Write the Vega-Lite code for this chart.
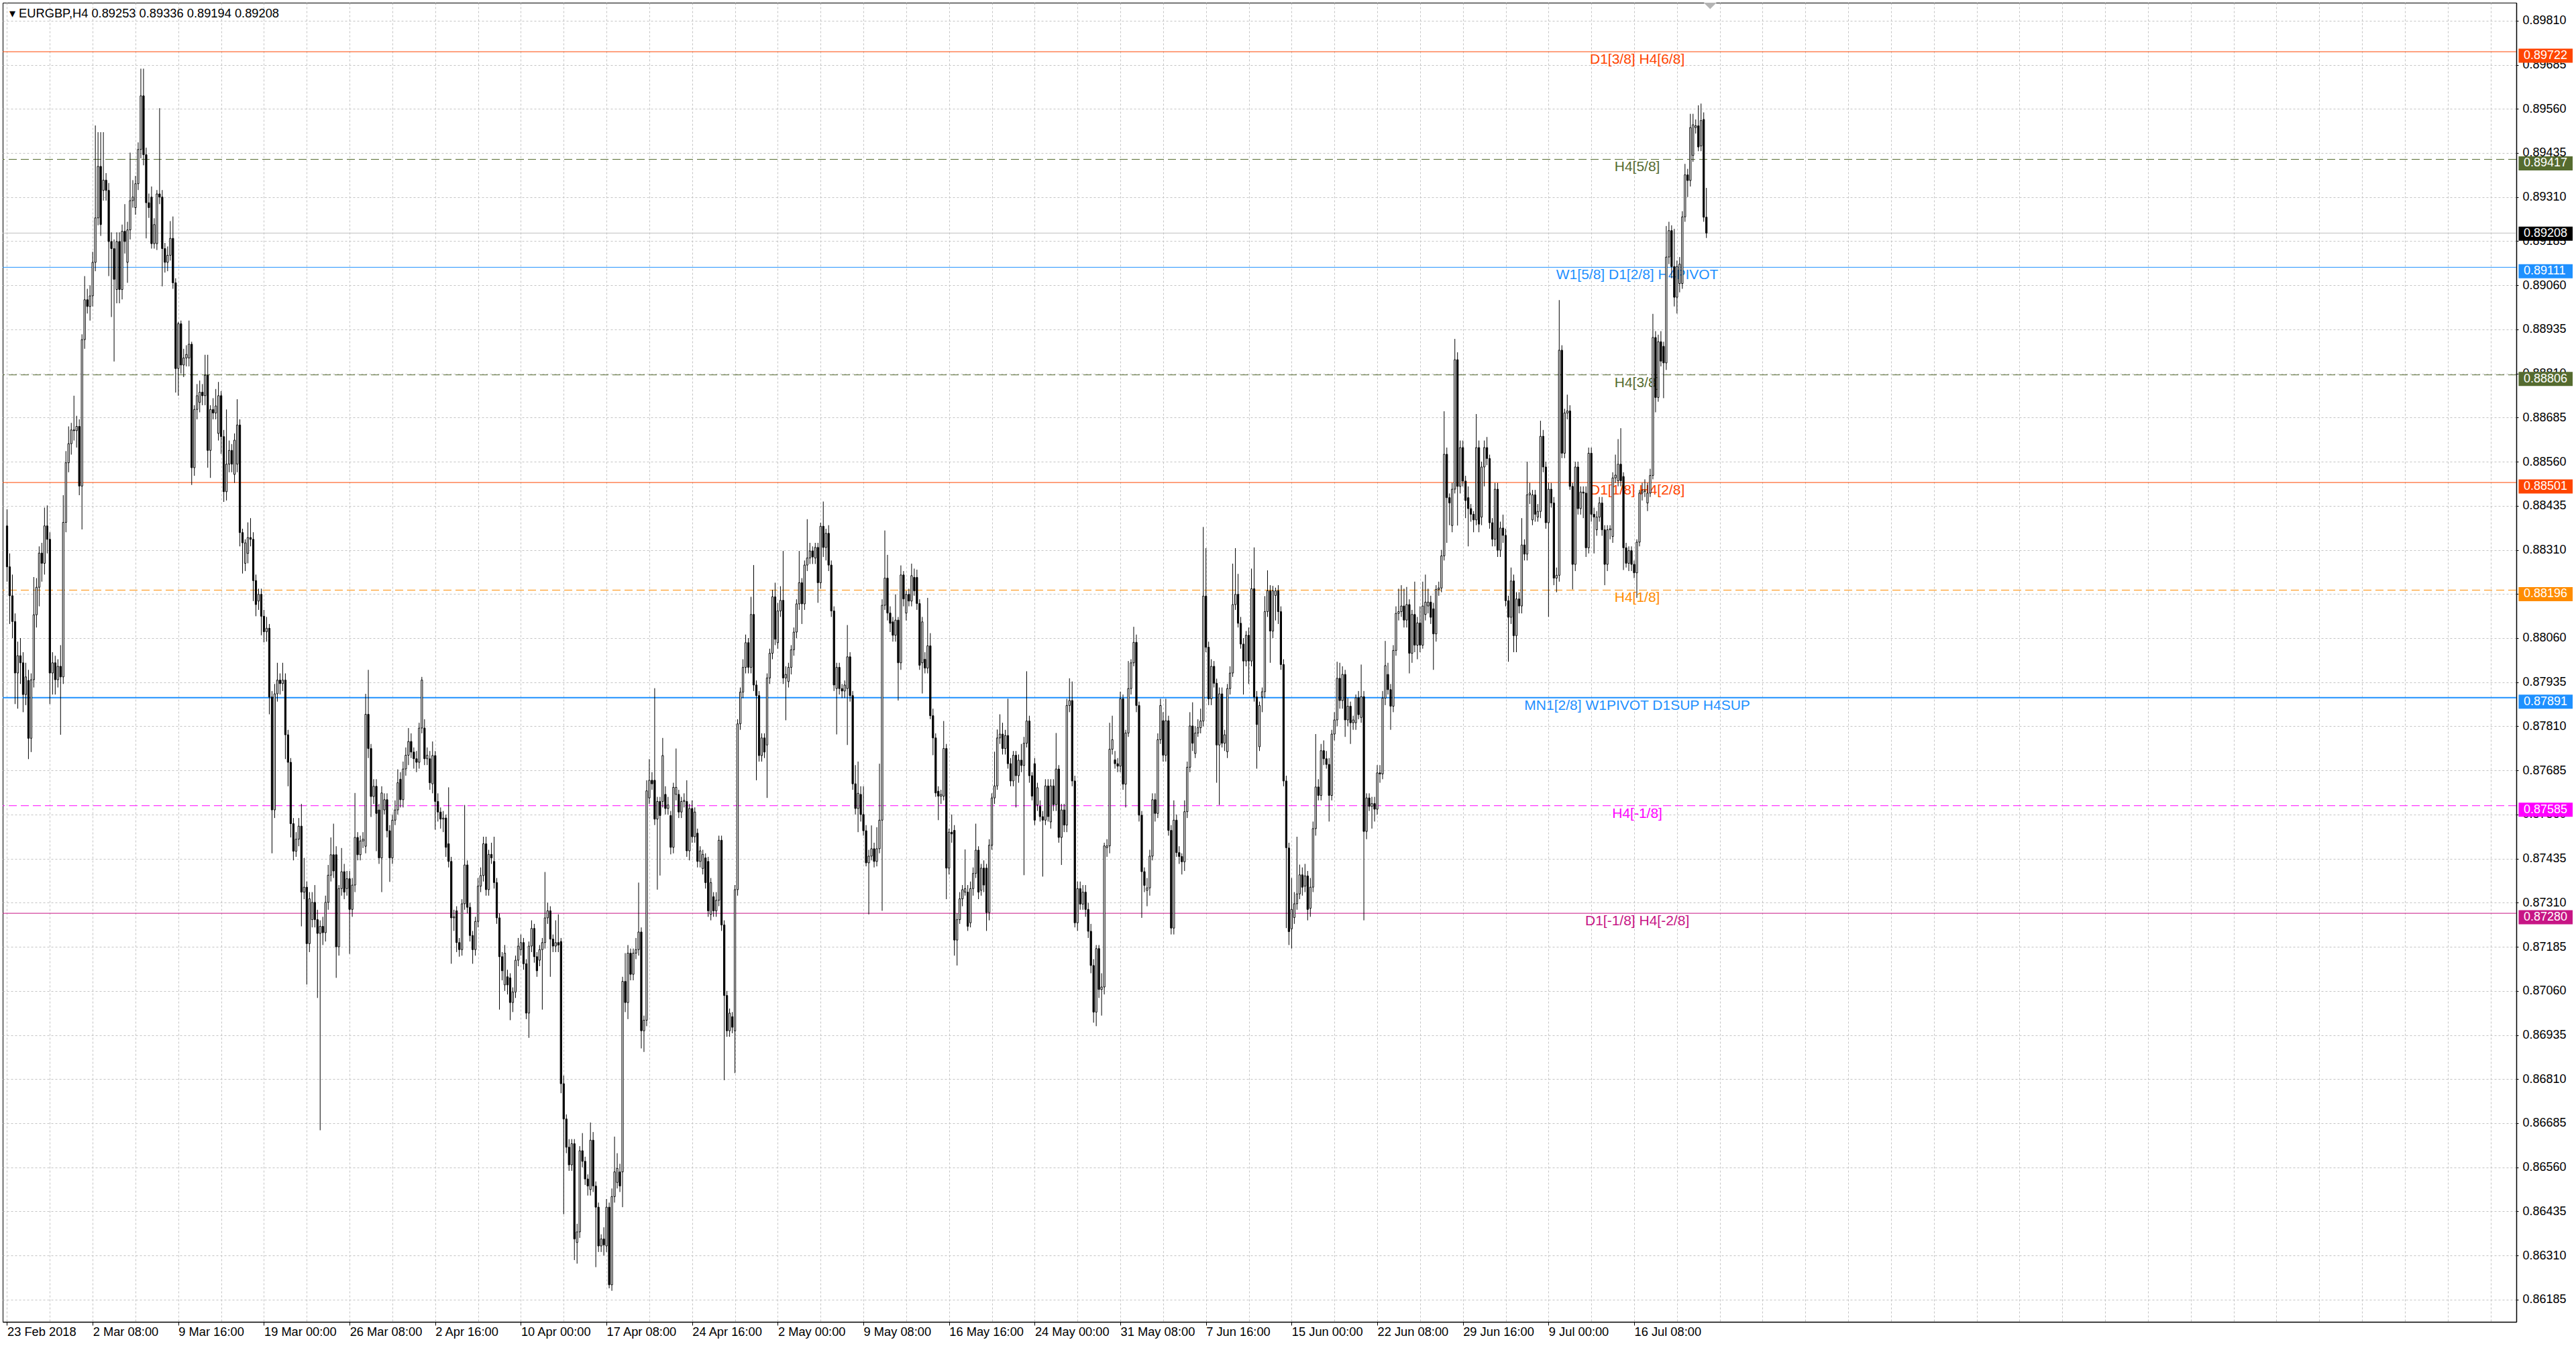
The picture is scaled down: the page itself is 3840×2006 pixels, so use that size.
{
  "$schema": "https://vega.github.io/schema/vega-lite/v6.json",
  "width": 3747,
  "height": 1966,
  "autosize": {"type": "none"},
  "padding": {"left": 4, "top": 4, "right": 89, "bottom": 36},
  "background": "white",
  "config": {
    "view": {"stroke": "#000", "strokeWidth": 1},
    "axis": {"titleFontSize": 1}
  },
  "datasets": {
    "levels": [
      {"p": 0.89722, "lab": "D1[3/8] H4[6/8]"},
      {"p": 0.89417, "lab": "H4[5/8]"},
      {"p": 0.89111, "lab": "W1[5/8] D1[2/8] H4PIVOT"},
      {"p": 0.88806, "lab": "H4[3/8]"},
      {"p": 0.88501, "lab": "D1[1/8] H4[2/8]"},
      {"p": 0.88196, "lab": "H4[1/8]"},
      {"p": 0.87891, "lab": "MN1[2/8] W1PIVOT D1SUP H4SUP"},
      {"p": 0.87585, "lab": "H4[-1/8]"},
      {"p": 0.87280, "lab": "D1[-1/8] H4[-2/8]"}
    ],
    "bars": [
{"i":0,"o":0.88378,"h":0.88425,"l":0.88220,"c":0.88262},
{"i":1,"o":0.88262,"h":0.88300,"l":0.88100,"c":0.88180},
{"i":2,"o":0.88180,"h":0.88240,"l":0.88060,"c":0.88107},
{"i":3,"o":0.88107,"h":0.88130,"l":0.87873,"c":0.87961},
{"i":4,"o":0.87961,"h":0.88050,"l":0.87860,"c":0.88010},
{"i":5,"o":0.88010,"h":0.88060,"l":0.87930,"c":0.87990},
{"i":6,"o":0.87990,"h":0.88020,"l":0.87850,"c":0.87900},
{"i":7,"o":0.87900,"h":0.87990,"l":0.87870,"c":0.87950},
{"i":8,"o":0.87940,"h":0.87970,"l":0.87717,"c":0.87776},
{"i":9,"o":0.87776,"h":0.87960,"l":0.87737,"c":0.87942},
{"i":10,"o":0.87942,"h":0.88233,"l":0.87920,"c":0.88126},
{"i":11,"o":0.88126,"h":0.88230,"l":0.88090,"c":0.88204},
{"i":12,"o":0.88204,"h":0.88320,"l":0.88150,"c":0.88301},
{"i":13,"o":0.88301,"h":0.88330,"l":0.88220,"c":0.88272},
{"i":14,"o":0.88272,"h":0.88430,"l":0.88240,"c":0.88378},
{"i":15,"o":0.88378,"h":0.88436,"l":0.88300,"c":0.88340},
{"i":16,"o":0.88340,"h":0.88360,"l":0.87873,"c":0.87961},
{"i":17,"o":0.87961,"h":0.88020,"l":0.87900,"c":0.87990},
{"i":18,"o":0.87990,"h":0.88010,"l":0.87900,"c":0.87942},
{"i":19,"o":0.87942,"h":0.88000,"l":0.87920,"c":0.87980},
{"i":20,"o":0.87980,"h":0.88040,"l":0.87786,"c":0.87950},
{"i":21,"o":0.87950,"h":0.88465,"l":0.87930,"c":0.88388},
{"i":22,"o":0.88388,"h":0.88590,"l":0.88360,"c":0.88557},
{"i":23,"o":0.88557,"h":0.88660,"l":0.88530,"c":0.88611},
{"i":24,"o":0.88611,"h":0.88670,"l":0.88580,"c":0.88650},
{"i":25,"o":0.88650,"h":0.88747,"l":0.88620,"c":0.88648},
{"i":26,"o":0.88648,"h":0.88690,"l":0.88600,"c":0.88660},
{"i":27,"o":0.88660,"h":0.88680,"l":0.88465,"c":0.88491},
{"i":28,"o":0.88491,"h":0.88921,"l":0.88368,"c":0.88906},
{"i":29,"o":0.88906,"h":0.89086,"l":0.88880,"c":0.89019},
{"i":30,"o":0.89019,"h":0.89050,"l":0.88980,"c":0.89000},
{"i":31,"o":0.89000,"h":0.89060,"l":0.88960,"c":0.89030},
{"i":32,"o":0.89030,"h":0.89155,"l":0.89000,"c":0.89125},
{"i":33,"o":0.89125,"h":0.89513,"l":0.89100,"c":0.89251},
{"i":34,"o":0.89251,"h":0.89494,"l":0.89230,"c":0.89397},
{"i":35,"o":0.89397,"h":0.89494,"l":0.89200,"c":0.89232},
{"i":36,"o":0.89329,"h":0.89494,"l":0.89300,"c":0.89358},
{"i":37,"o":0.89358,"h":0.89378,"l":0.89300,"c":0.89329},
{"i":38,"o":0.89329,"h":0.89350,"l":0.89086,"c":0.89184},
{"i":39,"o":0.89184,"h":0.89210,"l":0.88970,"c":0.89164},
{"i":40,"o":0.89164,"h":0.89190,"l":0.88844,"c":0.89077},
{"i":41,"o":0.89048,"h":0.89210,"l":0.89009,"c":0.89184},
{"i":42,"o":0.89184,"h":0.89210,"l":0.89009,"c":0.89048},
{"i":43,"o":0.89048,"h":0.89232,"l":0.89020,"c":0.89213},
{"i":44,"o":0.89213,"h":0.89290,"l":0.89150,"c":0.89184},
{"i":45,"o":0.89125,"h":0.89240,"l":0.89067,"c":0.89217},
{"i":46,"o":0.89217,"h":0.89436,"l":0.89190,"c":0.89300},
{"i":47,"o":0.89300,"h":0.89358,"l":0.89280,"c":0.89310},
{"i":48,"o":0.89280,"h":0.89370,"l":0.89260,"c":0.89348},
{"i":49,"o":0.89348,"h":0.89465,"l":0.89330,"c":0.89445},
{"i":50,"o":0.89445,"h":0.89674,"l":0.89420,"c":0.89597},
{"i":51,"o":0.89597,"h":0.89674,"l":0.89400,"c":0.89430},
{"i":52,"o":0.89430,"h":0.89450,"l":0.89193,"c":0.89294},
{"i":53,"o":0.89294,"h":0.89320,"l":0.89251,"c":0.89280},
{"i":54,"o":0.89310,"h":0.89340,"l":0.89164,"c":0.89178},
{"i":55,"o":0.89178,"h":0.89250,"l":0.89164,"c":0.89232},
{"i":56,"o":0.89178,"h":0.89330,"l":0.89160,"c":0.89319},
{"i":57,"o":0.89319,"h":0.89562,"l":0.89290,"c":0.89310},
{"i":58,"o":0.89310,"h":0.89330,"l":0.89057,"c":0.89164},
{"i":59,"o":0.89164,"h":0.89180,"l":0.89096,"c":0.89125},
{"i":60,"o":0.89125,"h":0.89170,"l":0.89100,"c":0.89145},
{"i":61,"o":0.89145,"h":0.89242,"l":0.89130,"c":0.89193},
{"i":62,"o":0.89193,"h":0.89255,"l":0.89050,"c":0.89067},
{"i":63,"o":0.89067,"h":0.89080,"l":0.88756,"c":0.88824},
{"i":64,"o":0.88824,"h":0.88956,"l":0.88747,"c":0.88951},
{"i":65,"o":0.88951,"h":0.88960,"l":0.88810,"c":0.88834},
{"i":66,"o":0.88834,"h":0.88880,"l":0.88800,"c":0.88854},
{"i":67,"o":0.88854,"h":0.88890,"l":0.88830,"c":0.88864},
{"i":68,"o":0.88854,"h":0.88960,"l":0.88830,"c":0.88893},
{"i":69,"o":0.88893,"h":0.88900,"l":0.88494,"c":0.88543},
{"i":70,"o":0.88543,"h":0.88720,"l":0.88520,"c":0.88708},
{"i":71,"o":0.88708,"h":0.88780,"l":0.88680,"c":0.88747},
{"i":72,"o":0.88728,"h":0.88790,"l":0.88700,"c":0.88757},
{"i":73,"o":0.88757,"h":0.88780,"l":0.88720,"c":0.88747},
{"i":74,"o":0.88747,"h":0.88863,"l":0.88720,"c":0.88805},
{"i":75,"o":0.88805,"h":0.88863,"l":0.88543,"c":0.88592},
{"i":76,"o":0.88592,"h":0.88720,"l":0.88514,"c":0.88708},
{"i":77,"o":0.88708,"h":0.88740,"l":0.88680,"c":0.88698},
{"i":78,"o":0.88698,"h":0.88766,"l":0.88680,"c":0.88718},
{"i":79,"o":0.88640,"h":0.88786,"l":0.88620,"c":0.88747},
{"i":80,"o":0.88747,"h":0.88760,"l":0.88582,"c":0.88631},
{"i":81,"o":0.88631,"h":0.88650,"l":0.88446,"c":0.88475},
{"i":82,"o":0.88475,"h":0.88708,"l":0.88450,"c":0.88553},
{"i":83,"o":0.88553,"h":0.88620,"l":0.88530,"c":0.88592},
{"i":84,"o":0.88592,"h":0.88610,"l":0.88530,"c":0.88553},
{"i":85,"o":0.88524,"h":0.88640,"l":0.88500,"c":0.88621},
{"i":86,"o":0.88553,"h":0.88737,"l":0.88530,"c":0.88664},
{"i":87,"o":0.88664,"h":0.88680,"l":0.88320,"c":0.88359},
{"i":88,"o":0.88359,"h":0.88370,"l":0.88243,"c":0.88330},
{"i":89,"o":0.88272,"h":0.88340,"l":0.88250,"c":0.88330},
{"i":90,"o":0.88300,"h":0.88388,"l":0.88272,"c":0.88345},
{"i":91,"o":0.88345,"h":0.88400,"l":0.88320,"c":0.88340},
{"i":92,"o":0.88340,"h":0.88360,"l":0.88165,"c":0.88223},
{"i":93,"o":0.88223,"h":0.88240,"l":0.88122,"c":0.88155},
{"i":94,"o":0.88165,"h":0.88200,"l":0.88140,"c":0.88184},
{"i":95,"o":0.88184,"h":0.88200,"l":0.88068,"c":0.88122},
{"i":96,"o":0.88122,"h":0.88140,"l":0.88048,"c":0.88078},
{"i":97,"o":0.88078,"h":0.88120,"l":0.88050,"c":0.88088},
{"i":98,"o":0.88088,"h":0.88100,"l":0.87844,"c":0.87893},
{"i":99,"o":0.87893,"h":0.87910,"l":0.87450,"c":0.87573},
{"i":100,"o":0.87573,"h":0.87930,"l":0.87550,"c":0.87902},
{"i":101,"o":0.87902,"h":0.87990,"l":0.87880,"c":0.87941},
{"i":102,"o":0.87941,"h":0.87960,"l":0.87900,"c":0.87931},
{"i":103,"o":0.87931,"h":0.87990,"l":0.87910,"c":0.87941},
{"i":104,"o":0.87941,"h":0.87960,"l":0.87717,"c":0.87786},
{"i":105,"o":0.87786,"h":0.87800,"l":0.87640,"c":0.87708},
{"i":106,"o":0.87708,"h":0.87720,"l":0.87495,"c":0.87534},
{"i":107,"o":0.87534,"h":0.87550,"l":0.87430,"c":0.87456},
{"i":108,"o":0.87456,"h":0.87510,"l":0.87440,"c":0.87490},
{"i":109,"o":0.87490,"h":0.87550,"l":0.87470,"c":0.87527},
{"i":110,"o":0.87527,"h":0.87590,"l":0.87243,"c":0.87340},
{"i":111,"o":0.87340,"h":0.87437,"l":0.87320,"c":0.87354},
{"i":112,"o":0.87354,"h":0.87370,"l":0.87078,"c":0.87194},
{"i":113,"o":0.87194,"h":0.87340,"l":0.87170,"c":0.87321},
{"i":114,"o":0.87262,"h":0.87340,"l":0.87240,"c":0.87311},
{"i":115,"o":0.87311,"h":0.87360,"l":0.87240,"c":0.87262},
{"i":116,"o":0.87262,"h":0.87290,"l":0.87040,"c":0.87223},
{"i":117,"o":0.87223,"h":0.87260,"l":0.86665,"c":0.87243},
{"i":118,"o":0.87243,"h":0.87270,"l":0.87190,"c":0.87225},
{"i":119,"o":0.87225,"h":0.87330,"l":0.87200,"c":0.87311},
{"i":120,"o":0.87311,"h":0.87417,"l":0.87290,"c":0.87388},
{"i":121,"o":0.87388,"h":0.87495,"l":0.87370,"c":0.87446},
{"i":122,"o":0.87446,"h":0.87534,"l":0.87380,"c":0.87400},
{"i":123,"o":0.87446,"h":0.87470,"l":0.87097,"c":0.87185},
{"i":124,"o":0.87185,"h":0.87360,"l":0.87160,"c":0.87350},
{"i":125,"o":0.87350,"h":0.87465,"l":0.87330,"c":0.87398},
{"i":126,"o":0.87398,"h":0.87420,"l":0.87320,"c":0.87340},
{"i":127,"o":0.87350,"h":0.87400,"l":0.87330,"c":0.87378},
{"i":128,"o":0.87378,"h":0.87400,"l":0.87165,"c":0.87291},
{"i":129,"o":0.87291,"h":0.87380,"l":0.87270,"c":0.87360},
{"i":130,"o":0.87360,"h":0.87621,"l":0.87340,"c":0.87495},
{"i":131,"o":0.87495,"h":0.87510,"l":0.87430,"c":0.87446},
{"i":132,"o":0.87446,"h":0.87500,"l":0.87430,"c":0.87485},
{"i":133,"o":0.87485,"h":0.87510,"l":0.87465,"c":0.87490},
{"i":134,"o":0.87470,"h":0.87902,"l":0.87450,"c":0.87844},
{"i":135,"o":0.87844,"h":0.87970,"l":0.87720,"c":0.87747},
{"i":136,"o":0.87747,"h":0.87760,"l":0.87553,"c":0.87611},
{"i":137,"o":0.87611,"h":0.87660,"l":0.87590,"c":0.87640},
{"i":138,"o":0.87640,"h":0.87660,"l":0.87456,"c":0.87563},
{"i":139,"o":0.87573,"h":0.87590,"l":0.87420,"c":0.87437},
{"i":140,"o":0.87437,"h":0.87640,"l":0.87340,"c":0.87621},
{"i":141,"o":0.87573,"h":0.87620,"l":0.87560,"c":0.87602},
{"i":142,"o":0.87602,"h":0.87620,"l":0.87495,"c":0.87514},
{"i":143,"o":0.87514,"h":0.87530,"l":0.87369,"c":0.87437},
{"i":144,"o":0.87437,"h":0.87560,"l":0.87420,"c":0.87544},
{"i":145,"o":0.87544,"h":0.87600,"l":0.87530,"c":0.87573},
{"i":146,"o":0.87573,"h":0.87688,"l":0.87560,"c":0.87650},
{"i":147,"o":0.87660,"h":0.87680,"l":0.87580,"c":0.87602},
{"i":148,"o":0.87602,"h":0.87710,"l":0.87580,"c":0.87689},
{"i":149,"o":0.87689,"h":0.87750,"l":0.87670,"c":0.87728},
{"i":150,"o":0.87728,"h":0.87805,"l":0.87700,"c":0.87767},
{"i":151,"o":0.87767,"h":0.87790,"l":0.87720,"c":0.87737},
{"i":152,"o":0.87737,"h":0.87750,"l":0.87690,"c":0.87718},
{"i":153,"o":0.87718,"h":0.87740,"l":0.87680,"c":0.87708},
{"i":154,"o":0.87708,"h":0.87820,"l":0.87690,"c":0.87805},
{"i":155,"o":0.87805,"h":0.87950,"l":0.87790,"c":0.87941},
{"i":156,"o":0.87805,"h":0.87830,"l":0.87700,"c":0.87718},
{"i":157,"o":0.87718,"h":0.87750,"l":0.87700,"c":0.87728},
{"i":158,"o":0.87718,"h":0.87740,"l":0.87630,"c":0.87650},
{"i":159,"o":0.87647,"h":0.87767,"l":0.87620,"c":0.87727},
{"i":160,"o":0.87727,"h":0.87740,"l":0.87517,"c":0.87597},
{"i":161,"o":0.87597,"h":0.87620,"l":0.87540,"c":0.87567},
{"i":162,"o":0.87567,"h":0.87580,"l":0.87520,"c":0.87547},
{"i":163,"o":0.87547,"h":0.87570,"l":0.87510,"c":0.87550},
{"i":164,"o":0.87550,"h":0.87560,"l":0.87440,"c":0.87467},
{"i":165,"o":0.87477,"h":0.87637,"l":0.87410,"c":0.87427},
{"i":166,"o":0.87427,"h":0.87440,"l":0.87137,"c":0.87267},
{"i":167,"o":0.87267,"h":0.87290,"l":0.87230,"c":0.87270},
{"i":168,"o":0.87287,"h":0.87300,"l":0.87170,"c":0.87197},
{"i":169,"o":0.87197,"h":0.87210,"l":0.87157,"c":0.87177},
{"i":170,"o":0.87177,"h":0.87320,"l":0.87160,"c":0.87307},
{"i":171,"o":0.87307,"h":0.87587,"l":0.87290,"c":0.87417},
{"i":172,"o":0.87417,"h":0.87430,"l":0.87280,"c":0.87297},
{"i":173,"o":0.87297,"h":0.87310,"l":0.87200,"c":0.87217},
{"i":174,"o":0.87217,"h":0.87230,"l":0.87137,"c":0.87177},
{"i":175,"o":0.87177,"h":0.87270,"l":0.87160,"c":0.87257},
{"i":176,"o":0.87257,"h":0.87380,"l":0.87240,"c":0.87357},
{"i":177,"o":0.87357,"h":0.87410,"l":0.87340,"c":0.87387},
{"i":178,"o":0.87387,"h":0.87497,"l":0.87370,"c":0.87477},
{"i":179,"o":0.87477,"h":0.87497,"l":0.87330,"c":0.87347},
{"i":180,"o":0.87347,"h":0.87460,"l":0.87330,"c":0.87447},
{"i":181,"o":0.87447,"h":0.87480,"l":0.87420,"c":0.87437},
{"i":182,"o":0.87427,"h":0.87497,"l":0.87350,"c":0.87367},
{"i":183,"o":0.87367,"h":0.87380,"l":0.87250,"c":0.87267},
{"i":184,"o":0.87267,"h":0.87280,"l":0.87007,"c":0.87157},
{"i":185,"o":0.87157,"h":0.87170,"l":0.87090,"c":0.87117},
{"i":186,"o":0.87077,"h":0.87190,"l":0.87060,"c":0.87167},
{"i":187,"o":0.87100,"h":0.87120,"l":0.87050,"c":0.87077},
{"i":188,"o":0.87097,"h":0.87110,"l":0.86977,"c":0.87027},
{"i":189,"o":0.87027,"h":0.87070,"l":0.87000,"c":0.87057},
{"i":190,"o":0.87057,"h":0.87160,"l":0.87040,"c":0.87147},
{"i":191,"o":0.87147,"h":0.87210,"l":0.87130,"c":0.87187},
{"i":192,"o":0.87177,"h":0.87220,"l":0.87160,"c":0.87197},
{"i":193,"o":0.87197,"h":0.87210,"l":0.87120,"c":0.87137},
{"i":194,"o":0.87137,"h":0.87150,"l":0.86980,"c":0.86997},
{"i":195,"o":0.86997,"h":0.87200,"l":0.86927,"c":0.87187},
{"i":196,"o":0.87187,"h":0.87260,"l":0.87170,"c":0.87237},
{"i":197,"o":0.87237,"h":0.87250,"l":0.87140,"c":0.87157},
{"i":198,"o":0.87157,"h":0.87170,"l":0.87100,"c":0.87117},
{"i":199,"o":0.87147,"h":0.87190,"l":0.87130,"c":0.87177},
{"i":200,"o":0.87177,"h":0.87210,"l":0.87007,"c":0.87197},
{"i":201,"o":0.87197,"h":0.87397,"l":0.87180,"c":0.87267},
{"i":202,"o":0.87267,"h":0.87310,"l":0.87250,"c":0.87287},
{"i":203,"o":0.87287,"h":0.87300,"l":0.87100,"c":0.87207},
{"i":204,"o":0.87207,"h":0.87220,"l":0.87170,"c":0.87187},
{"i":205,"o":0.87187,"h":0.87260,"l":0.87170,"c":0.87197},
{"i":206,"o":0.87197,"h":0.87277,"l":0.87170,"c":0.87190},
{"i":207,"o":0.87200,"h":0.87210,"l":0.86770,"c":0.86797},
{"i":208,"o":0.86797,"h":0.86820,"l":0.86427,"c":0.86697},
{"i":209,"o":0.86697,"h":0.86710,"l":0.86600,"c":0.86617},
{"i":210,"o":0.86617,"h":0.86640,"l":0.86550,"c":0.86567},
{"i":211,"o":0.86567,"h":0.86640,"l":0.86550,"c":0.86627},
{"i":212,"o":0.86627,"h":0.86640,"l":0.86297,"c":0.86357},
{"i":213,"o":0.86347,"h":0.86400,"l":0.86287,"c":0.86377},
{"i":214,"o":0.86377,"h":0.86620,"l":0.86360,"c":0.86607},
{"i":215,"o":0.86607,"h":0.86657,"l":0.86560,"c":0.86577},
{"i":216,"o":0.86577,"h":0.86590,"l":0.86510,"c":0.86527},
{"i":217,"o":0.86527,"h":0.86540,"l":0.86480,"c":0.86507},
{"i":218,"o":0.86497,"h":0.86687,"l":0.86480,"c":0.86637},
{"i":219,"o":0.86637,"h":0.86660,"l":0.86490,"c":0.86507},
{"i":220,"o":0.86507,"h":0.86520,"l":0.86277,"c":0.86447},
{"i":221,"o":0.86447,"h":0.86460,"l":0.86320,"c":0.86337},
{"i":222,"o":0.86337,"h":0.86370,"l":0.86320,"c":0.86357},
{"i":223,"o":0.86357,"h":0.86390,"l":0.86310,"c":0.86340},
{"i":224,"o":0.86337,"h":0.86470,"l":0.86320,"c":0.86447},
{"i":225,"o":0.86447,"h":0.86460,"l":0.86217,"c":0.86227},
{"i":226,"o":0.86227,"h":0.86500,"l":0.86210,"c":0.86477},
{"i":227,"o":0.86477,"h":0.86647,"l":0.86460,"c":0.86547},
{"i":228,"o":0.86517,"h":0.86600,"l":0.86500,"c":0.86557},
{"i":229,"o":0.86547,"h":0.86570,"l":0.86490,"c":0.86507},
{"i":230,"o":0.86547,"h":0.87100,"l":0.86447,"c":0.87087},
{"i":231,"o":0.87087,"h":0.87167,"l":0.87000,"c":0.87027},
{"i":232,"o":0.87027,"h":0.87190,"l":0.86980,"c":0.87167},
{"i":233,"o":0.87167,"h":0.87180,"l":0.87090,"c":0.87107},
{"i":234,"o":0.87107,"h":0.87180,"l":0.87090,"c":0.87167},
{"i":235,"o":0.87167,"h":0.87210,"l":0.87150,"c":0.87177},
{"i":236,"o":0.87177,"h":0.87367,"l":0.87160,"c":0.87227},
{"i":237,"o":0.87227,"h":0.87240,"l":0.86897,"c":0.86947},
{"i":238,"o":0.86947,"h":0.86990,"l":0.86887,"c":0.86977},
{"i":239,"o":0.86977,"h":0.87657,"l":0.86960,"c":0.87627},
{"i":240,"o":0.87607,"h":0.87717,"l":0.87590,"c":0.87657},
{"i":241,"o":0.87657,"h":0.87680,"l":0.87630,"c":0.87647},
{"i":242,"o":0.87657,"h":0.87918,"l":0.87530,"c":0.87547},
{"i":243,"o":0.87547,"h":0.87610,"l":0.87347,"c":0.87597},
{"i":244,"o":0.87597,"h":0.87610,"l":0.87387,"c":0.87557},
{"i":245,"o":0.87597,"h":0.87777,"l":0.87580,"c":0.87727},
{"i":246,"o":0.87617,"h":0.87640,"l":0.87560,"c":0.87577},
{"i":247,"o":0.87577,"h":0.87610,"l":0.87560,"c":0.87587},
{"i":248,"o":0.87557,"h":0.87570,"l":0.87447,"c":0.87467},
{"i":249,"o":0.87467,"h":0.87650,"l":0.87450,"c":0.87637},
{"i":250,"o":0.87617,"h":0.87747,"l":0.87600,"c":0.87637},
{"i":251,"o":0.87617,"h":0.87630,"l":0.87550,"c":0.87567},
{"i":252,"o":0.87567,"h":0.87610,"l":0.87550,"c":0.87597},
{"i":253,"o":0.87597,"h":0.87620,"l":0.87580,"c":0.87600},
{"i":254,"o":0.87597,"h":0.87657,"l":0.87440,"c":0.87457},
{"i":255,"o":0.87457,"h":0.87590,"l":0.87430,"c":0.87577},
{"i":256,"o":0.87577,"h":0.87600,"l":0.87480,"c":0.87497},
{"i":257,"o":0.87497,"h":0.87580,"l":0.87480,"c":0.87567},
{"i":258,"o":0.87507,"h":0.87520,"l":0.87410,"c":0.87427},
{"i":259,"o":0.87427,"h":0.87470,"l":0.87410,"c":0.87457},
{"i":260,"o":0.87407,"h":0.87460,"l":0.87390,"c":0.87447},
{"i":261,"o":0.87437,"h":0.87450,"l":0.87350,"c":0.87367},
{"i":262,"o":0.87427,"h":0.87440,"l":0.87270,"c":0.87287},
{"i":263,"o":0.87277,"h":0.87380,"l":0.87260,"c":0.87367},
{"i":264,"o":0.87327,"h":0.87340,"l":0.87270,"c":0.87287},
{"i":265,"o":0.87287,"h":0.87340,"l":0.87270,"c":0.87317},
{"i":266,"o":0.87317,"h":0.87500,"l":0.87300,"c":0.87487},
{"i":267,"o":0.87487,"h":0.87500,"l":0.87230,"c":0.87247},
{"i":268,"o":0.87247,"h":0.87260,"l":0.86807,"c":0.87047},
{"i":269,"o":0.87047,"h":0.87060,"l":0.86930,"c":0.86947},
{"i":270,"o":0.86947,"h":0.87010,"l":0.86930,"c":0.86997},
{"i":271,"o":0.86987,"h":0.87000,"l":0.86940,"c":0.86957},
{"i":272,"o":0.86947,"h":0.87360,"l":0.86827,"c":0.87347},
{"i":273,"o":0.87347,"h":0.87830,"l":0.87330,"c":0.87817},
{"i":274,"o":0.87817,"h":0.87920,"l":0.87800,"c":0.87907},
{"i":275,"o":0.87907,"h":0.88000,"l":0.87890,"c":0.87977},
{"i":276,"o":0.87977,"h":0.88070,"l":0.87960,"c":0.88047},
{"i":277,"o":0.88047,"h":0.88060,"l":0.87960,"c":0.87977},
{"i":278,"o":0.87977,"h":0.88177,"l":0.87960,"c":0.88127},
{"i":279,"o":0.88127,"h":0.88267,"l":0.87910,"c":0.87927},
{"i":280,"o":0.87927,"h":0.87940,"l":0.87657,"c":0.87897},
{"i":281,"o":0.87897,"h":0.87910,"l":0.87710,"c":0.87727},
{"i":282,"o":0.87727,"h":0.87790,"l":0.87710,"c":0.87777},
{"i":283,"o":0.87777,"h":0.87790,"l":0.87720,"c":0.87737},
{"i":284,"o":0.87757,"h":0.87960,"l":0.87607,"c":0.87947},
{"i":285,"o":0.87947,"h":0.88030,"l":0.87930,"c":0.88017},
{"i":286,"o":0.88017,"h":0.88197,"l":0.88000,"c":0.88177},
{"i":287,"o":0.88177,"h":0.88217,"l":0.88040,"c":0.88057},
{"i":288,"o":0.88047,"h":0.88160,"l":0.88030,"c":0.88137},
{"i":289,"o":0.88137,"h":0.88207,"l":0.88120,"c":0.88167},
{"i":290,"o":0.88167,"h":0.88307,"l":0.87930,"c":0.87947},
{"i":291,"o":0.87947,"h":0.87980,"l":0.87827,"c":0.87957},
{"i":292,"o":0.87937,"h":0.87990,"l":0.87920,"c":0.87977},
{"i":293,"o":0.87977,"h":0.88040,"l":0.87957,"c":0.88027},
{"i":294,"o":0.88027,"h":0.88090,"l":0.88010,"c":0.88077},
{"i":295,"o":0.88077,"h":0.88170,"l":0.88060,"c":0.88157},
{"i":296,"o":0.88157,"h":0.88307,"l":0.88140,"c":0.88217},
{"i":297,"o":0.88217,"h":0.88230,"l":0.88100,"c":0.88157},
{"i":298,"o":0.88157,"h":0.88280,"l":0.88140,"c":0.88267},
{"i":299,"o":0.88267,"h":0.88397,"l":0.88250,"c":0.88287},
{"i":300,"o":0.88287,"h":0.88330,"l":0.88270,"c":0.88307},
{"i":301,"o":0.88307,"h":0.88320,"l":0.88270,"c":0.88290},
{"i":302,"o":0.88287,"h":0.88330,"l":0.88270,"c":0.88317},
{"i":303,"o":0.88317,"h":0.88330,"l":0.88160,"c":0.88217},
{"i":304,"o":0.88217,"h":0.88387,"l":0.88200,"c":0.88377},
{"i":305,"o":0.88377,"h":0.88447,"l":0.88290,"c":0.88317},
{"i":306,"o":0.88317,"h":0.88370,"l":0.88280,"c":0.88357},
{"i":307,"o":0.88357,"h":0.88380,"l":0.88250,"c":0.88267},
{"i":308,"o":0.88267,"h":0.88280,"l":0.88120,"c":0.88137},
{"i":309,"o":0.88137,"h":0.88150,"l":0.87910,"c":0.87927},
{"i":310,"o":0.87917,"h":0.87990,"l":0.87787,"c":0.87977},
{"i":311,"o":0.87977,"h":0.87990,"l":0.87900,"c":0.87917},
{"i":312,"o":0.87917,"h":0.87930,"l":0.87890,"c":0.87910},
{"i":313,"o":0.87910,"h":0.87940,"l":0.87890,"c":0.87927},
{"i":314,"o":0.87917,"h":0.88097,"l":0.87757,"c":0.88007},
{"i":315,"o":0.88007,"h":0.88020,"l":0.87880,"c":0.87897},
{"i":316,"o":0.87897,"h":0.87910,"l":0.87630,"c":0.87647},
{"i":317,"o":0.87647,"h":0.87700,"l":0.87560,"c":0.87577},
{"i":318,"o":0.87577,"h":0.87710,"l":0.87510,"c":0.87620},
{"i":319,"o":0.87617,"h":0.87640,"l":0.87540,"c":0.87560},
{"i":320,"o":0.87560,"h":0.87640,"l":0.87500,"c":0.87514},
{"i":321,"o":0.87514,"h":0.87530,"l":0.87413,"c":0.87423},
{"i":322,"o":0.87423,"h":0.87460,"l":0.87277,"c":0.87442},
{"i":323,"o":0.87442,"h":0.87529,"l":0.87430,"c":0.87463},
{"i":324,"o":0.87463,"h":0.87480,"l":0.87410,"c":0.87427},
{"i":325,"o":0.87427,"h":0.87524,"l":0.87413,"c":0.87463},
{"i":326,"o":0.87463,"h":0.87704,"l":0.87450,"c":0.87544},
{"i":327,"o":0.87544,"h":0.88170,"l":0.87287,"c":0.88153},
{"i":328,"o":0.88153,"h":0.88365,"l":0.88140,"c":0.88230},
{"i":329,"o":0.88230,"h":0.88296,"l":0.88110,"c":0.88131},
{"i":330,"o":0.88131,"h":0.88150,"l":0.88077,"c":0.88102},
{"i":331,"o":0.88106,"h":0.88120,"l":0.88050,"c":0.88068},
{"i":332,"o":0.88068,"h":0.88184,"l":0.88050,"c":0.88111},
{"i":333,"o":0.88111,"h":0.88120,"l":0.87883,"c":0.87990},
{"i":334,"o":0.87990,"h":0.88266,"l":0.87970,"c":0.88239},
{"i":335,"o":0.88239,"h":0.88250,"l":0.88150,"c":0.88171},
{"i":336,"o":0.88131,"h":0.88194,"l":0.88110,"c":0.88184},
{"i":337,"o":0.88184,"h":0.88200,"l":0.88150,"c":0.88165},
{"i":338,"o":0.88165,"h":0.88271,"l":0.88150,"c":0.88237},
{"i":339,"o":0.88232,"h":0.88257,"l":0.88180,"c":0.88194},
{"i":340,"o":0.88232,"h":0.88254,"l":0.88140,"c":0.88158},
{"i":341,"o":0.88158,"h":0.88170,"l":0.87970,"c":0.87983},
{"i":342,"o":0.87990,"h":0.88120,"l":0.87903,"c":0.88106},
{"i":343,"o":0.88000,"h":0.88020,"l":0.87960,"c":0.87975},
{"i":344,"o":0.87975,"h":0.88174,"l":0.87960,"c":0.88038},
{"i":345,"o":0.88038,"h":0.88074,"l":0.87830,"c":0.87840},
{"i":346,"o":0.87840,"h":0.87860,"l":0.87728,"c":0.87777},
{"i":347,"o":0.87777,"h":0.87790,"l":0.87610,"c":0.87621},
{"i":348,"o":0.87626,"h":0.87640,"l":0.87544,"c":0.87612},
{"i":349,"o":0.87612,"h":0.87630,"l":0.87590,"c":0.87617},
{"i":350,"o":0.87612,"h":0.87825,"l":0.87600,"c":0.87747},
{"i":351,"o":0.87747,"h":0.87760,"l":0.87320,"c":0.87408},
{"i":352,"o":0.87408,"h":0.87520,"l":0.87390,"c":0.87510},
{"i":353,"o":0.87510,"h":0.87560,"l":0.87480,"c":0.87505},
{"i":354,"o":0.87515,"h":0.87530,"l":0.87160,"c":0.87204},
{"i":355,"o":0.87204,"h":0.87280,"l":0.87132,"c":0.87262},
{"i":356,"o":0.87262,"h":0.87340,"l":0.87250,"c":0.87321},
{"i":357,"o":0.87321,"h":0.87360,"l":0.87300,"c":0.87347},
{"i":358,"o":0.87340,"h":0.87461,"l":0.87330,"c":0.87350},
{"i":359,"o":0.87340,"h":0.87360,"l":0.87230,"c":0.87243},
{"i":360,"o":0.87253,"h":0.87370,"l":0.87240,"c":0.87350},
{"i":361,"o":0.87350,"h":0.87410,"l":0.87330,"c":0.87393},
{"i":362,"o":0.87393,"h":0.87534,"l":0.87380,"c":0.87459},
{"i":363,"o":0.87459,"h":0.87470,"l":0.87320,"c":0.87340},
{"i":364,"o":0.87345,"h":0.87420,"l":0.87330,"c":0.87408},
{"i":365,"o":0.87408,"h":0.87430,"l":0.87340,"c":0.87360},
{"i":366,"o":0.87408,"h":0.87420,"l":0.87230,"c":0.87282},
{"i":367,"o":0.87282,"h":0.87490,"l":0.87260,"c":0.87473},
{"i":368,"o":0.87473,"h":0.87620,"l":0.87460,"c":0.87607},
{"i":369,"o":0.87607,"h":0.87738,"l":0.87590,"c":0.87641},
{"i":370,"o":0.87641,"h":0.87801,"l":0.87630,"c":0.87777},
{"i":371,"o":0.87777,"h":0.87844,"l":0.87760,"c":0.87788},
{"i":372,"o":0.87788,"h":0.87820,"l":0.87730,"c":0.87747},
{"i":373,"o":0.87747,"h":0.87800,"l":0.87730,"c":0.87784},
{"i":374,"o":0.87784,"h":0.87888,"l":0.87690,"c":0.87704},
{"i":375,"o":0.87704,"h":0.87720,"l":0.87640,"c":0.87655},
{"i":376,"o":0.87655,"h":0.87740,"l":0.87640,"c":0.87728},
{"i":377,"o":0.87728,"h":0.87740,"l":0.87580,"c":0.87670},
{"i":378,"o":0.87670,"h":0.87730,"l":0.87650,"c":0.87714},
{"i":379,"o":0.87714,"h":0.87760,"l":0.87680,"c":0.87699},
{"i":380,"o":0.87699,"h":0.87780,"l":0.87388,"c":0.87762},
{"i":381,"o":0.87762,"h":0.87966,"l":0.87750,"c":0.87825},
{"i":382,"o":0.87825,"h":0.87840,"l":0.87650,"c":0.87670},
{"i":383,"o":0.87670,"h":0.87680,"l":0.87600,"c":0.87612},
{"i":384,"o":0.87704,"h":0.87720,"l":0.87530,"c":0.87544},
{"i":385,"o":0.87587,"h":0.87650,"l":0.87570,"c":0.87636},
{"i":386,"o":0.87583,"h":0.87600,"l":0.87540,"c":0.87554},
{"i":387,"o":0.87554,"h":0.87570,"l":0.87384,"c":0.87544},
{"i":388,"o":0.87544,"h":0.87660,"l":0.87530,"c":0.87641},
{"i":389,"o":0.87641,"h":0.87660,"l":0.87540,"c":0.87554},
{"i":390,"o":0.87539,"h":0.87660,"l":0.87520,"c":0.87641},
{"i":391,"o":0.87641,"h":0.87660,"l":0.87570,"c":0.87588},
{"i":392,"o":0.87588,"h":0.87791,"l":0.87570,"c":0.87689},
{"i":393,"o":0.87689,"h":0.87700,"l":0.87480,"c":0.87495},
{"i":394,"o":0.87495,"h":0.87590,"l":0.87417,"c":0.87573},
{"i":395,"o":0.87573,"h":0.87590,"l":0.87510,"c":0.87530},
{"i":396,"o":0.87530,"h":0.87888,"l":0.87510,"c":0.87869},
{"i":397,"o":0.87869,"h":0.87946,"l":0.87850,"c":0.87883},
{"i":398,"o":0.87883,"h":0.87937,"l":0.87640,"c":0.87655},
{"i":399,"o":0.87655,"h":0.87670,"l":0.87240,"c":0.87253},
{"i":400,"o":0.87253,"h":0.87370,"l":0.87230,"c":0.87350},
{"i":401,"o":0.87350,"h":0.87370,"l":0.87290,"c":0.87306},
{"i":402,"o":0.87306,"h":0.87360,"l":0.87290,"c":0.87340},
{"i":403,"o":0.87340,"h":0.87360,"l":0.87270,"c":0.87291},
{"i":404,"o":0.87291,"h":0.87310,"l":0.87210,"c":0.87229},
{"i":405,"o":0.87229,"h":0.87250,"l":0.87110,"c":0.87132},
{"i":406,"o":0.87132,"h":0.87150,"l":0.86970,"c":0.87000},
{"i":407,"o":0.87000,"h":0.87190,"l":0.86960,"c":0.87180},
{"i":408,"o":0.87180,"h":0.87190,"l":0.87040,"c":0.87064},
{"i":409,"o":0.87064,"h":0.87110,"l":0.86990,"c":0.87071},
{"i":410,"o":0.87071,"h":0.87480,"l":0.87050,"c":0.87471},
{"i":411,"o":0.87466,"h":0.87490,"l":0.87440,"c":0.87471},
{"i":412,"o":0.87471,"h":0.87820,"l":0.87450,"c":0.87745},
{"i":413,"o":0.87745,"h":0.87840,"l":0.87730,"c":0.87772},
{"i":414,"o":0.87715,"h":0.87740,"l":0.87690,"c":0.87704},
{"i":415,"o":0.87704,"h":0.87720,"l":0.87680,"c":0.87697},
{"i":416,"o":0.87697,"h":0.87908,"l":0.87680,"c":0.87888},
{"i":417,"o":0.87888,"h":0.87900,"l":0.87630,"c":0.87646},
{"i":418,"o":0.87646,"h":0.87800,"l":0.87580,"c":0.87791},
{"i":419,"o":0.87791,"h":0.87995,"l":0.87780,"c":0.87917},
{"i":420,"o":0.87917,"h":0.88000,"l":0.87900,"c":0.87990},
{"i":421,"o":0.87990,"h":0.88092,"l":0.87980,"c":0.88048},
{"i":422,"o":0.88048,"h":0.88070,"l":0.87850,"c":0.87869},
{"i":423,"o":0.87869,"h":0.87880,"l":0.87540,"c":0.87558},
{"i":424,"o":0.87558,"h":0.87570,"l":0.87267,"c":0.87398},
{"i":425,"o":0.87398,"h":0.87410,"l":0.87340,"c":0.87359},
{"i":426,"o":0.87345,"h":0.87380,"l":0.87300,"c":0.87352},
{"i":427,"o":0.87352,"h":0.87460,"l":0.87330,"c":0.87442},
{"i":428,"o":0.87442,"h":0.87620,"l":0.87430,"c":0.87602},
{"i":429,"o":0.87602,"h":0.87620,"l":0.87540,"c":0.87563},
{"i":430,"o":0.87563,"h":0.87790,"l":0.87550,"c":0.87772},
{"i":431,"o":0.87772,"h":0.87888,"l":0.87760,"c":0.87869},
{"i":432,"o":0.87826,"h":0.87850,"l":0.87710,"c":0.87728},
{"i":433,"o":0.87728,"h":0.87888,"l":0.87710,"c":0.87826},
{"i":434,"o":0.87826,"h":0.87840,"l":0.87500,"c":0.87515},
{"i":435,"o":0.87515,"h":0.87530,"l":0.87220,"c":0.87238},
{"i":436,"o":0.87238,"h":0.87600,"l":0.87220,"c":0.87544},
{"i":437,"o":0.87544,"h":0.87560,"l":0.87440,"c":0.87452},
{"i":438,"o":0.87452,"h":0.87470,"l":0.87420,"c":0.87441},
{"i":439,"o":0.87441,"h":0.87450,"l":0.87390,"c":0.87426},
{"i":440,"o":0.87426,"h":0.87600,"l":0.87400,"c":0.87568},
{"i":441,"o":0.87568,"h":0.87710,"l":0.87550,"c":0.87694},
{"i":442,"o":0.87694,"h":0.87850,"l":0.87680,"c":0.87811},
{"i":443,"o":0.87811,"h":0.87878,"l":0.87740,"c":0.87762},
{"i":444,"o":0.87733,"h":0.87810,"l":0.87720,"c":0.87791},
{"i":445,"o":0.87791,"h":0.87830,"l":0.87780,"c":0.87806},
{"i":446,"o":0.87806,"h":0.87860,"l":0.87790,"c":0.87825},
{"i":447,"o":0.87825,"h":0.88375,"l":0.87810,"c":0.88179},
{"i":448,"o":0.88179,"h":0.88315,"l":0.88020,"c":0.88034},
{"i":449,"o":0.88034,"h":0.88050,"l":0.87870,"c":0.87888},
{"i":450,"o":0.87888,"h":0.88000,"l":0.87870,"c":0.87980},
{"i":451,"o":0.87980,"h":0.87995,"l":0.87920,"c":0.87932},
{"i":452,"o":0.87932,"h":0.87945,"l":0.87650,"c":0.87757},
{"i":453,"o":0.87757,"h":0.87920,"l":0.87587,"c":0.87902},
{"i":454,"o":0.87902,"h":0.87920,"l":0.87750,"c":0.87762},
{"i":455,"o":0.87762,"h":0.87800,"l":0.87740,"c":0.87786},
{"i":456,"o":0.87738,"h":0.87930,"l":0.87720,"c":0.87917},
{"i":457,"o":0.87917,"h":0.87980,"l":0.87900,"c":0.87961},
{"i":458,"o":0.87961,"h":0.88271,"l":0.87950,"c":0.88155},
{"i":459,"o":0.88155,"h":0.88315,"l":0.88140,"c":0.88184},
{"i":460,"o":0.88184,"h":0.88242,"l":0.88090,"c":0.88102},
{"i":461,"o":0.88102,"h":0.88120,"l":0.88030,"c":0.88043},
{"i":462,"o":0.88043,"h":0.88060,"l":0.87900,"c":0.87995},
{"i":463,"o":0.87995,"h":0.88080,"l":0.87980,"c":0.88068},
{"i":464,"o":0.88068,"h":0.88090,"l":0.87930,"c":0.87995},
{"i":465,"o":0.87995,"h":0.88257,"l":0.87980,"c":0.88200},
{"i":466,"o":0.88200,"h":0.88317,"l":0.87880,"c":0.87893},
{"i":467,"o":0.87893,"h":0.87910,"l":0.87690,"c":0.87815},
{"i":468,"o":0.87752,"h":0.87880,"l":0.87740,"c":0.87869},
{"i":469,"o":0.87893,"h":0.87920,"l":0.87850,"c":0.87908},
{"i":470,"o":0.87908,"h":0.88179,"l":0.87890,"c":0.88135},
{"i":471,"o":0.88135,"h":0.88252,"l":0.88120,"c":0.88194},
{"i":472,"o":0.88194,"h":0.88210,"l":0.87990,"c":0.88080},
{"i":473,"o":0.88080,"h":0.88208,"l":0.88060,"c":0.88194},
{"i":474,"o":0.88181,"h":0.88203,"l":0.88110,"c":0.88194},
{"i":475,"o":0.88194,"h":0.88210,"l":0.88100,"c":0.88135},
{"i":476,"o":0.88135,"h":0.88150,"l":0.87970,"c":0.87985},
{"i":477,"o":0.87985,"h":0.88000,"l":0.87640,"c":0.87655},
{"i":478,"o":0.87655,"h":0.87670,"l":0.87238,"c":0.87466},
{"i":479,"o":0.87465,"h":0.87480,"l":0.87190,"c":0.87228},
{"i":480,"o":0.87236,"h":0.87380,"l":0.87180,"c":0.87291},
{"i":481,"o":0.87268,"h":0.87340,"l":0.87250,"c":0.87307},
{"i":482,"o":0.87307,"h":0.87497,"l":0.87290,"c":0.87335},
{"i":483,"o":0.87335,"h":0.87418,"l":0.87320,"c":0.87389},
{"i":484,"o":0.87389,"h":0.87410,"l":0.87330,"c":0.87354},
{"i":485,"o":0.87357,"h":0.87420,"l":0.87340,"c":0.87386},
{"i":486,"o":0.87386,"h":0.87400,"l":0.87260,"c":0.87291},
{"i":487,"o":0.87294,"h":0.87380,"l":0.87270,"c":0.87354},
{"i":488,"o":0.87354,"h":0.87540,"l":0.87340,"c":0.87520},
{"i":489,"o":0.87520,"h":0.87788,"l":0.87500,"c":0.87638},
{"i":490,"o":0.87638,"h":0.87660,"l":0.87600,"c":0.87614},
{"i":491,"o":0.87614,"h":0.87760,"l":0.87600,"c":0.87741},
{"i":492,"o":0.87741,"h":0.87770,"l":0.87700,"c":0.87718},
{"i":493,"o":0.87718,"h":0.87740,"l":0.87690,"c":0.87702},
{"i":494,"o":0.87702,"h":0.87720,"l":0.87540,"c":0.87614},
{"i":495,"o":0.87614,"h":0.87800,"l":0.87600,"c":0.87788},
{"i":496,"o":0.87788,"h":0.87850,"l":0.87770,"c":0.87828},
{"i":497,"o":0.87828,"h":0.87993,"l":0.87810,"c":0.87946},
{"i":498,"o":0.87946,"h":0.87990,"l":0.87860,"c":0.87883},
{"i":499,"o":0.87883,"h":0.87980,"l":0.87860,"c":0.87957},
{"i":500,"o":0.87957,"h":0.87970,"l":0.87780,"c":0.87828},
{"i":501,"o":0.87828,"h":0.87890,"l":0.87810,"c":0.87867},
{"i":502,"o":0.87867,"h":0.87880,"l":0.87760,"c":0.87820},
{"i":503,"o":0.87820,"h":0.87840,"l":0.87800,"c":0.87828},
{"i":504,"o":0.87820,"h":0.87900,"l":0.87800,"c":0.87891},
{"i":505,"o":0.87891,"h":0.87910,"l":0.87830,"c":0.87843},
{"i":506,"o":0.87835,"h":0.87985,"l":0.87820,"c":0.87894},
{"i":507,"o":0.87894,"h":0.87910,"l":0.87260,"c":0.87512},
{"i":508,"o":0.87512,"h":0.87620,"l":0.87490,"c":0.87607},
{"i":509,"o":0.87607,"h":0.87620,"l":0.87570,"c":0.87583},
{"i":510,"o":0.87583,"h":0.87610,"l":0.87520,"c":0.87591},
{"i":511,"o":0.87591,"h":0.87610,"l":0.87540,"c":0.87575},
{"i":512,"o":0.87575,"h":0.87700,"l":0.87560,"c":0.87678},
{"i":513,"o":0.87678,"h":0.87700,"l":0.87650,"c":0.87675},
{"i":514,"o":0.87675,"h":0.87910,"l":0.87660,"c":0.87890},
{"i":515,"o":0.87890,"h":0.88052,"l":0.87870,"c":0.87982},
{"i":516,"o":0.87957,"h":0.87990,"l":0.87900,"c":0.87914},
{"i":517,"o":0.87914,"h":0.87930,"l":0.87800,"c":0.87867},
{"i":518,"o":0.87867,"h":0.88040,"l":0.87850,"c":0.88025},
{"i":519,"o":0.88025,"h":0.88150,"l":0.88010,"c":0.88130},
{"i":520,"o":0.88130,"h":0.88200,"l":0.88110,"c":0.88135},
{"i":521,"o":0.88135,"h":0.88210,"l":0.88120,"c":0.88151},
{"i":522,"o":0.88151,"h":0.88200,"l":0.88090,"c":0.88111},
{"i":523,"o":0.88111,"h":0.88205,"l":0.88090,"c":0.88155},
{"i":524,"o":0.88155,"h":0.88170,"l":0.87960,"c":0.88017},
{"i":525,"o":0.88017,"h":0.88140,"l":0.87990,"c":0.88127},
{"i":526,"o":0.88127,"h":0.88220,"l":0.88020,"c":0.88040},
{"i":527,"o":0.88040,"h":0.88120,"l":0.88000,"c":0.88103},
{"i":528,"o":0.88103,"h":0.88150,"l":0.88020,"c":0.88040},
{"i":529,"o":0.88040,"h":0.88220,"l":0.88030,"c":0.88151},
{"i":530,"o":0.88127,"h":0.88240,"l":0.88110,"c":0.88162},
{"i":531,"o":0.88151,"h":0.88200,"l":0.88130,"c":0.88162},
{"i":532,"o":0.88162,"h":0.88180,"l":0.88100,"c":0.88119},
{"i":533,"o":0.88143,"h":0.88160,"l":0.87970,"c":0.88072},
{"i":534,"o":0.88072,"h":0.88210,"l":0.88050,"c":0.88198},
{"i":535,"o":0.88198,"h":0.88220,"l":0.88180,"c":0.88202},
{"i":536,"o":0.88202,"h":0.88310,"l":0.88190,"c":0.88293},
{"i":537,"o":0.88293,"h":0.88703,"l":0.88280,"c":0.88581},
{"i":538,"o":0.88581,"h":0.88600,"l":0.88330,"c":0.88458},
{"i":539,"o":0.88458,"h":0.88470,"l":0.88380,"c":0.88443},
{"i":540,"o":0.88379,"h":0.88500,"l":0.88360,"c":0.88482},
{"i":541,"o":0.88482,"h":0.88908,"l":0.88470,"c":0.88849},
{"i":542,"o":0.88849,"h":0.88870,"l":0.88379,"c":0.88490},
{"i":543,"o":0.88490,"h":0.88620,"l":0.88470,"c":0.88600},
{"i":544,"o":0.88600,"h":0.88620,"l":0.88490,"c":0.88505},
{"i":545,"o":0.88505,"h":0.88520,"l":0.88400,"c":0.88450},
{"i":546,"o":0.88458,"h":0.88490,"l":0.88320,"c":0.88427},
{"i":547,"o":0.88427,"h":0.88440,"l":0.88390,"c":0.88411},
{"i":548,"o":0.88411,"h":0.88420,"l":0.88360,"c":0.88395},
{"i":549,"o":0.88395,"h":0.88695,"l":0.88380,"c":0.88600},
{"i":550,"o":0.88600,"h":0.88620,"l":0.88360,"c":0.88383},
{"i":551,"o":0.88403,"h":0.88560,"l":0.88380,"c":0.88545},
{"i":552,"o":0.88545,"h":0.88620,"l":0.88490,"c":0.88600},
{"i":553,"o":0.88600,"h":0.88630,"l":0.88550,"c":0.88569},
{"i":554,"o":0.88569,"h":0.88580,"l":0.88370,"c":0.88387},
{"i":555,"o":0.88387,"h":0.88400,"l":0.88320,"c":0.88340},
{"i":556,"o":0.88340,"h":0.88500,"l":0.88320,"c":0.88482},
{"i":557,"o":0.88482,"h":0.88500,"l":0.88290,"c":0.88309},
{"i":558,"o":0.88309,"h":0.88390,"l":0.88290,"c":0.88372},
{"i":559,"o":0.88372,"h":0.88410,"l":0.88330,"c":0.88351},
{"i":560,"o":0.88351,"h":0.88370,"l":0.88150,"c":0.88166},
{"i":561,"o":0.88166,"h":0.88180,"l":0.87993,"c":0.88119},
{"i":562,"o":0.88119,"h":0.88260,"l":0.88100,"c":0.88222},
{"i":563,"o":0.88222,"h":0.88240,"l":0.88020,"c":0.88067},
{"i":564,"o":0.88067,"h":0.88190,"l":0.88020,"c":0.88171},
{"i":565,"o":0.88171,"h":0.88190,"l":0.88130,"c":0.88151},
{"i":566,"o":0.88151,"h":0.88400,"l":0.88130,"c":0.88324},
{"i":567,"o":0.88324,"h":0.88340,"l":0.88280,"c":0.88298},
{"i":568,"o":0.88298,"h":0.88560,"l":0.88280,"c":0.88466},
{"i":569,"o":0.88466,"h":0.88500,"l":0.88440,"c":0.88471},
{"i":570,"o":0.88395,"h":0.88480,"l":0.88380,"c":0.88466},
{"i":571,"o":0.88466,"h":0.88480,"l":0.88390,"c":0.88411},
{"i":572,"o":0.88403,"h":0.88440,"l":0.88390,"c":0.88419},
{"i":573,"o":0.88419,"h":0.88676,"l":0.88400,"c":0.88632},
{"i":574,"o":0.88632,"h":0.88650,"l":0.88530,"c":0.88545},
{"i":575,"o":0.88545,"h":0.88560,"l":0.88370,"c":0.88387},
{"i":576,"o":0.88387,"h":0.88500,"l":0.88120,"c":0.88482},
{"i":577,"o":0.88482,"h":0.88500,"l":0.88430,"c":0.88443},
{"i":578,"o":0.88443,"h":0.88460,"l":0.88210,"c":0.88230},
{"i":579,"o":0.88230,"h":0.88260,"l":0.88190,"c":0.88238},
{"i":580,"o":0.88238,"h":0.89018,"l":0.88220,"c":0.88876},
{"i":581,"o":0.88876,"h":0.88890,"l":0.88570,"c":0.88584},
{"i":582,"o":0.88584,"h":0.88710,"l":0.88570,"c":0.88698},
{"i":583,"o":0.88698,"h":0.88750,"l":0.88680,"c":0.88704},
{"i":584,"o":0.88704,"h":0.88720,"l":0.88480,"c":0.88490},
{"i":585,"o":0.88490,"h":0.88500,"l":0.88198,"c":0.88269},
{"i":586,"o":0.88269,"h":0.88560,"l":0.88250,"c":0.88545},
{"i":587,"o":0.88545,"h":0.88560,"l":0.88410,"c":0.88427},
{"i":588,"o":0.88427,"h":0.88490,"l":0.88410,"c":0.88474},
{"i":589,"o":0.88474,"h":0.88490,"l":0.88400,"c":0.88471},
{"i":590,"o":0.88471,"h":0.88490,"l":0.88290,"c":0.88316},
{"i":591,"o":0.88316,"h":0.88600,"l":0.88300,"c":0.88584},
{"i":592,"o":0.88584,"h":0.88600,"l":0.88390,"c":0.88411},
{"i":593,"o":0.88411,"h":0.88430,"l":0.88300,"c":0.88403},
{"i":594,"o":0.88367,"h":0.88420,"l":0.88350,"c":0.88403},
{"i":595,"o":0.88403,"h":0.88460,"l":0.88390,"c":0.88443},
{"i":596,"o":0.88443,"h":0.88460,"l":0.88350,"c":0.88367},
{"i":597,"o":0.88367,"h":0.88380,"l":0.88210,"c":0.88269},
{"i":598,"o":0.88269,"h":0.88380,"l":0.88250,"c":0.88367},
{"i":599,"o":0.88367,"h":0.88380,"l":0.88340,"c":0.88370},
{"i":600,"o":0.88348,"h":0.88530,"l":0.88330,"c":0.88514},
{"i":601,"o":0.88514,"h":0.88580,"l":0.88500,"c":0.88522},
{"i":602,"o":0.88506,"h":0.88624,"l":0.88490,"c":0.88553},
{"i":603,"o":0.88553,"h":0.88655,"l":0.88490,"c":0.88506},
{"i":604,"o":0.88518,"h":0.88530,"l":0.88253,"c":0.88316},
{"i":605,"o":0.88316,"h":0.88330,"l":0.88260,"c":0.88272},
{"i":606,"o":0.88272,"h":0.88320,"l":0.88250,"c":0.88308},
{"i":607,"o":0.88308,"h":0.88320,"l":0.88250,"c":0.88269},
{"i":608,"o":0.88269,"h":0.88280,"l":0.88230,"c":0.88245},
{"i":609,"o":0.88245,"h":0.88340,"l":0.88174,"c":0.88332},
{"i":610,"o":0.88332,"h":0.88480,"l":0.88320,"c":0.88471},
{"i":611,"o":0.88471,"h":0.88500,"l":0.88450,"c":0.88477},
{"i":612,"o":0.88477,"h":0.88510,"l":0.88460,"c":0.88476},
{"i":613,"o":0.88443,"h":0.88500,"l":0.88420,"c":0.88471},
{"i":614,"o":0.88471,"h":0.88540,"l":0.88460,"c":0.88521},
{"i":615,"o":0.88521,"h":0.88979,"l":0.88510,"c":0.88912},
{"i":616,"o":0.88912,"h":0.88930,"l":0.88700,"c":0.88742},
{"i":617,"o":0.88742,"h":0.88920,"l":0.88730,"c":0.88900},
{"i":618,"o":0.88900,"h":0.88930,"l":0.88830,"c":0.88845},
{"i":619,"o":0.88887,"h":0.88900,"l":0.88740,"c":0.88840},
{"i":620,"o":0.88840,"h":0.89228,"l":0.88820,"c":0.89140},
{"i":621,"o":0.89140,"h":0.89240,"l":0.89120,"c":0.89215},
{"i":622,"o":0.89215,"h":0.89230,"l":0.89080,"c":0.89113},
{"i":623,"o":0.89113,"h":0.89220,"l":0.89000,"c":0.89026},
{"i":624,"o":0.89026,"h":0.89130,"l":0.88980,"c":0.89113},
{"i":625,"o":0.89065,"h":0.89140,"l":0.89040,"c":0.89120},
{"i":626,"o":0.89065,"h":0.89270,"l":0.89050,"c":0.89254},
{"i":627,"o":0.89254,"h":0.89404,"l":0.89240,"c":0.89373},
{"i":628,"o":0.89373,"h":0.89390,"l":0.89310,"c":0.89357},
{"i":629,"o":0.89357,"h":0.89546,"l":0.89340,"c":0.89507},
{"i":630,"o":0.89428,"h":0.89546,"l":0.89410,"c":0.89515},
{"i":631,"o":0.89507,"h":0.89530,"l":0.89490,"c":0.89512},
{"i":632,"o":0.89512,"h":0.89570,"l":0.89440,"c":0.89452},
{"i":633,"o":0.89455,"h":0.89575,"l":0.89440,"c":0.89527},
{"i":634,"o":0.89530,"h":0.89550,"l":0.89240,"c":0.89253},
{"i":635,"o":0.89253,"h":0.89336,"l":0.89194,"c":0.89208}
    ]
  },
  "layer": [
    {
      "data": {"name": "levels"},
      "mark": {"type": "rule"},
      "encoding": {
        "y": {"field": "p", "type": "quantitative", "title": null, "scale": {"domain": [0.86122, 0.89861], "nice": false, "zero": false},
          "axis": {
            "orient": "right",
            "values": [0.8981, 0.89685, 0.8956, 0.89435, 0.8931, 0.89185, 0.8906, 0.88935, 0.8881, 0.88685, 0.8856, 0.88435, 0.8831, 0.88185, 0.8806, 0.87935, 0.8781, 0.87685, 0.8756, 0.87435, 0.8731, 0.87185, 0.8706, 0.86935, 0.8681, 0.86685, 0.8656, 0.86435, 0.8631, 0.86185],
            "format": ".5f",
            "labelFont": "Liberation Sans",
            "labelFontSize": 18,
            "labelColor": "#000",
            "labelPadding": 6,
            "labelBaseline": "middle",
            "labelOverlap": false,
            "labelFlush": false,
            "labelBound": false,
            "tickSize": 3,
            "tickColor": "#000",
            "domainColor": "#000",
            "domainWidth": 1.5,
            "grid": true,
            "gridColor": "#c4c4c4",
            "gridDash": [3, 3],
            "gridWidth": 1,
            "zindex": 0
          }
        },
        "color": {"field": "lab", "type": "nominal", "legend": null,
          "scale": {"domain": ["D1[3/8] H4[6/8]", "H4[5/8]", "W1[5/8] D1[2/8] H4PIVOT", "H4[3/8]", "D1[1/8] H4[2/8]", "H4[1/8]", "MN1[2/8] W1PIVOT D1SUP H4SUP", "H4[-1/8]", "D1[-1/8] H4[-2/8]"],
                    "range": ["#FF4500", "#556B2F", "#1E90FF", "#556B2F", "#FF4500", "#FF8C00", "#1E90FF", "#FF00FF", "#C71585"]}},
        "strokeDash": {"field": "lab", "type": "nominal", "legend": null,
          "scale": {"domain": ["D1[3/8] H4[6/8]", "H4[5/8]", "W1[5/8] D1[2/8] H4PIVOT", "H4[3/8]", "D1[1/8] H4[2/8]", "H4[1/8]", "MN1[2/8] W1PIVOT D1SUP H4SUP", "H4[-1/8]", "D1[-1/8] H4[-2/8]"],
                    "range": [[1, 0], [12, 6], [1, 0], [12, 6], [1, 0], [12, 6], [1, 0], [12, 6], [1, 0]]}},
        "strokeWidth": {"condition": {"test": "datum.lab === 'MN1[2/8] W1PIVOT D1SUP H4SUP'", "value": 2}, "value": 1}
      }
    },
    {
      "data": {"name": "bars"},
      "transform": [{"filter": "datum.i === 635"}],
      "mark": {"type": "rule", "color": "#c0c0c0", "strokeWidth": 1},
      "encoding": {
        "y": {"field": "c", "type": "quantitative", "title": null, "scale": {"domain": [0.86122, 0.89861], "nice": false, "zero": false}}
      }
    },
    {
      "data": {"name": "levels"},
      "mark": {"type": "text", "align": "center", "baseline": "top", "dy": 1, "font": "Liberation Sans", "fontSize": 21},
      "encoding": {
        "x": {"datum": 609.15, "type": "quantitative", "title": null, "scale": {"domain": [-0.375, 936.375], "nice": false, "zero": false}},
        "y": {"field": "p", "type": "quantitative", "title": null, "scale": {"domain": [0.86122, 0.89861], "nice": false, "zero": false}},
        "text": {"field": "lab"},
        "color": {"field": "lab", "type": "nominal", "legend": null,
          "scale": {"domain": ["D1[3/8] H4[6/8]", "H4[5/8]", "W1[5/8] D1[2/8] H4PIVOT", "H4[3/8]", "D1[1/8] H4[2/8]", "H4[1/8]", "MN1[2/8] W1PIVOT D1SUP H4SUP", "H4[-1/8]", "D1[-1/8] H4[-2/8]"],
                    "range": ["#FF4500", "#556B2F", "#1E90FF", "#556B2F", "#FF4500", "#FF8C00", "#1E90FF", "#FF00FF", "#C71585"]}}
      }
    },
    {
      "data": {"values": [{"txt": "▾   EURGBP,H4  0.89253 0.89336 0.89194 0.89208"}]},
      "mark": {"type": "text", "align": "left", "baseline": "alphabetic", "font": "Liberation Sans", "fontSize": 18.3, "color": "#000000"},
      "encoding": {
        "x": {"datum": 0.875, "type": "quantitative", "title": null, "scale": {"domain": [-0.375, 936.375], "nice": false, "zero": false}},
        "y": {"datum": 0.89819, "type": "quantitative", "title": null, "scale": {"domain": [0.86122, 0.89861], "nice": false, "zero": false}},
        "text": {"field": "txt"}
      }
    },
    {
      "data": {"name": "bars"},
      "mark": {"type": "rule", "color": "#000", "strokeWidth": 1},
      "encoding": {
        "x": {"field": "i", "type": "quantitative", "title": null, "scale": {"domain": [-0.375, 936.375], "nice": false, "zero": false}},
        "y": {"field": "l", "type": "quantitative", "title": null, "scale": {"domain": [0.86122, 0.89861], "nice": false, "zero": false}},
        "y2": {"field": "h"}
      }
    },
    {
      "data": {"name": "bars"},
      "mark": {"type": "bar", "width": 2.2, "stroke": "#000", "strokeWidth": 1},
      "encoding": {
        "x": {"field": "i", "type": "quantitative", "title": null, "scale": {"domain": [-0.375, 936.375], "nice": false, "zero": false},
          "axis": {
            "orient": "bottom",
            "values": [0, 16, 32, 48, 64, 80, 96, 112, 128, 144, 160, 176, 192, 208, 224, 240, 256, 272, 288, 304, 320, 336, 352, 368, 384, 400, 416, 432, 448, 464, 480, 496, 512, 528, 544, 560, 576, 592, 608, 624, 640, 656, 672, 688, 704, 720, 736, 752, 768, 784, 800, 816, 832, 848, 864, 880, 896, 912, 928],
            "labelExpr": "(datum.value % 32 === 0 && datum.value <= 608) ? ['23 Feb 2018', '2 Mar 08:00', '9 Mar 16:00', '19 Mar 00:00', '26 Mar 08:00', '2 Apr 16:00', '10 Apr 00:00', '17 Apr 08:00', '24 Apr 16:00', '2 May 00:00', '9 May 08:00', '16 May 16:00', '24 May 00:00', '31 May 08:00', '7 Jun 16:00', '15 Jun 00:00', '22 Jun 08:00', '29 Jun 16:00', '9 Jul 00:00', '16 Jul 08:00'][datum.value / 32] : ''",
            "labelAlign": "left",
            "labelBaseline": "top",
            "labelPadding": 1,
            "labelFont": "Liberation Sans",
            "labelFontSize": 18.3,
            "labelColor": "#000",
            "labelOverlap": false,
            "labelFlush": false,
            "labelBound": false,
            "tickSize": 5,
            "tickColor": "#000",
            "tickOpacity": {"condition": {"test": "datum.value % 32 === 0 && datum.value <= 608", "value": 1}, "value": 0},
            "domainColor": "#000",
            "domainWidth": 1.5,
            "grid": true,
            "gridColor": "#c4c4c4",
            "gridDash": [3, 3],
            "gridWidth": 1,
            "zindex": 0
          }
        },
        "y": {"field": "o", "type": "quantitative", "title": null, "scale": {"domain": [0.86122, 0.89861], "nice": false, "zero": false}},
        "y2": {"field": "c"},
        "fill": {"condition": {"test": "datum.c >= datum.o", "value": "#ffffff"}, "value": "#000000"}
      }
    },
    {
      "data": {"name": "levels"},
      "mark": {"type": "rect", "x": {"expr": "width + 3.5"}, "x2": {"expr": "width + 84"}, "yOffset": -4.5, "y2Offset": 16.5, "clip": false},
      "encoding": {
        "y": {"field": "p", "type": "quantitative", "title": null, "scale": {"domain": [0.86122, 0.89861], "nice": false, "zero": false}},
        "y2": {"field": "p"},
        "color": {"field": "lab", "type": "nominal", "legend": null,
          "scale": {"domain": ["D1[3/8] H4[6/8]", "H4[5/8]", "W1[5/8] D1[2/8] H4PIVOT", "H4[3/8]", "D1[1/8] H4[2/8]", "H4[1/8]", "MN1[2/8] W1PIVOT D1SUP H4SUP", "H4[-1/8]", "D1[-1/8] H4[-2/8]"],
                    "range": ["#FF4500", "#556B2F", "#1E90FF", "#556B2F", "#FF4500", "#FF8C00", "#1E90FF", "#FF00FF", "#C71585"]}}
      }
    },
    {
      "data": {"name": "levels"},
      "mark": {"type": "text", "x": {"expr": "width + 11"}, "align": "left", "baseline": "middle", "dy": 6, "font": "Liberation Sans", "fontSize": 18, "color": "#ffffff", "clip": false},
      "encoding": {
        "y": {"field": "p", "type": "quantitative", "title": null, "scale": {"domain": [0.86122, 0.89861], "nice": false, "zero": false}},
        "text": {"field": "p", "type": "quantitative", "format": ".5f"}
      }
    },
    {
      "data": {"name": "bars"},
      "transform": [{"filter": "datum.i === 635"}],
      "mark": {"type": "rect", "x": {"expr": "width + 3.5"}, "x2": {"expr": "width + 84"}, "yOffset": -9.5, "y2Offset": 11.5, "color": "#000000", "clip": false},
      "encoding": {
        "y": {"field": "c", "type": "quantitative", "title": null, "scale": {"domain": [0.86122, 0.89861], "nice": false, "zero": false}},
        "y2": {"field": "c"}
      }
    },
    {
      "data": {"name": "bars"},
      "transform": [{"filter": "datum.i === 635"}],
      "mark": {"type": "text", "x": {"expr": "width + 11"}, "align": "left", "baseline": "middle", "dy": 1, "font": "Liberation Sans", "fontSize": 18, "color": "#ffffff", "clip": false},
      "encoding": {
        "y": {"field": "c", "type": "quantitative", "title": null, "scale": {"domain": [0.86122, 0.89861], "nice": false, "zero": false}},
        "text": {"field": "c", "type": "quantitative", "format": ".5f"}
      }
    },
    {
      "data": {"values": [{"marker": "shift"}]},
      "mark": {"type": "point", "shape": "M-1,0L1,0L0,1Z", "size": 361, "filled": true, "color": "#b4b4b4", "opacity": 1, "clip": false},
      "encoding": {
        "x": {"datum": 636.4, "type": "quantitative", "title": null, "scale": {"domain": [-0.375, 936.375], "nice": false, "zero": false}},
        "y": {"datum": 0.89861, "type": "quantitative", "title": null, "scale": {"domain": [0.86122, 0.89861], "nice": false, "zero": false}}
      }
    }
  ]
}
